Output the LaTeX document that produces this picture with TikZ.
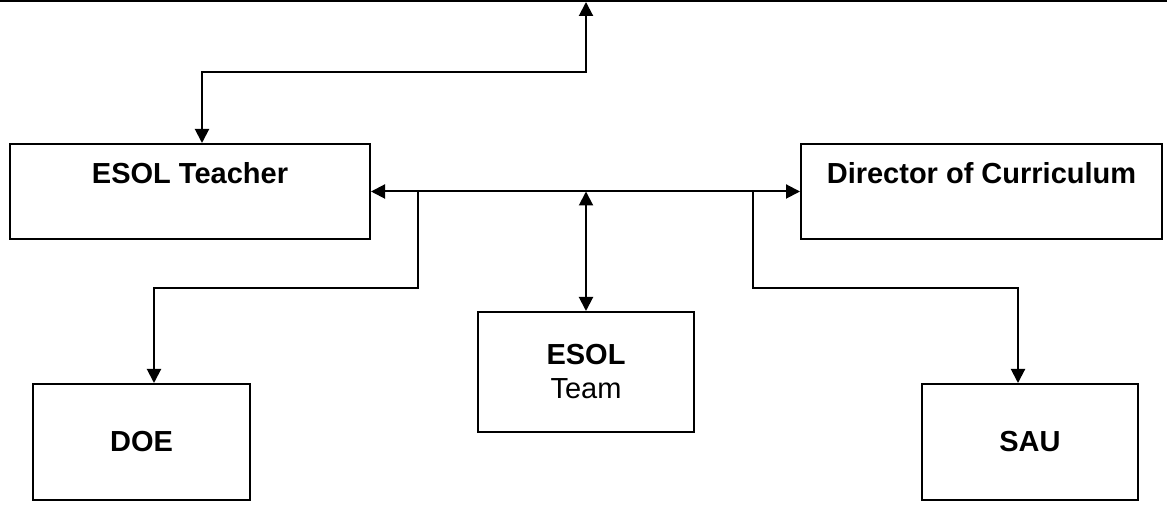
\documentclass[tikz,border=0pt]{standalone}
\usepackage{fontspec}
\setmainfont{Liberation Sans}
\usepackage{tikz}
\usetikzlibrary{arrows.meta}
\usetikzlibrary{positioning}

\begin{document}
\begin{tikzpicture}[x=0.5pt,y=-0.5pt,line width=1pt,>={Triangle[length=7pt,width=7pt]},
  box/.style={draw,rectangle,inner sep=0pt},
  txt/.style={font=\fontsize{14.5}{17}\selectfont,inner sep=0pt,align=center}]
  \useasboundingbox (0,0) rectangle (1167,506);

  \node[box,minimum width=180pt,minimum height=47.5pt] (teacher) at (190,191.5){};
  \node[txt] (teacherlbl) at (190,173){\bfseries ESOL Teacher};
  \node[box,minimum width=180.5pt,minimum height=47.5pt] (director) at (981.5,191.5){};
  \node[txt] (directorlbl) at (981.5,173){\bfseries Director of Curriculum};
  \node[box,txt,draw,minimum width=108pt,minimum height=60pt] (team) at (586,372){\bfseries ESOL\\Team};
  \node[box,txt,draw,minimum width=108.5pt,minimum height=58pt] (doe) at (141.5,442){\bfseries DOE};
  \node[box,txt,draw,minimum width=108pt,minimum height=58pt] (sau) at (1030,442){\bfseries SAU};

  \coordinate (topleft) at (0,1);
  \coordinate (topright) at (1167,1);
  \coordinate (up) at (586,2);
  \coordinate (tjoin) at (202,72);
  \coordinate (hub) at (586,191.5);
  \coordinate (ljoin) at (418,191.5);
  \coordinate (lbend) at (154,288);
  \coordinate (rjoin) at (753,191.5);
  \coordinate (rbend) at (1018,288);

  \draw (topleft)--(topright);
  \draw[<->] (teacher.north -| tjoin)--(tjoin) -| (up);
  \draw[<->] (teacher.east)--(director.west);
  \draw[<->] (hub)--(team.north);
  \draw[->] (ljoin) |- (lbend)--(doe.north -| lbend);
  \draw[->] (rjoin) |- (rbend)--(sau.north -| rbend);
\end{tikzpicture}
\end{document}
